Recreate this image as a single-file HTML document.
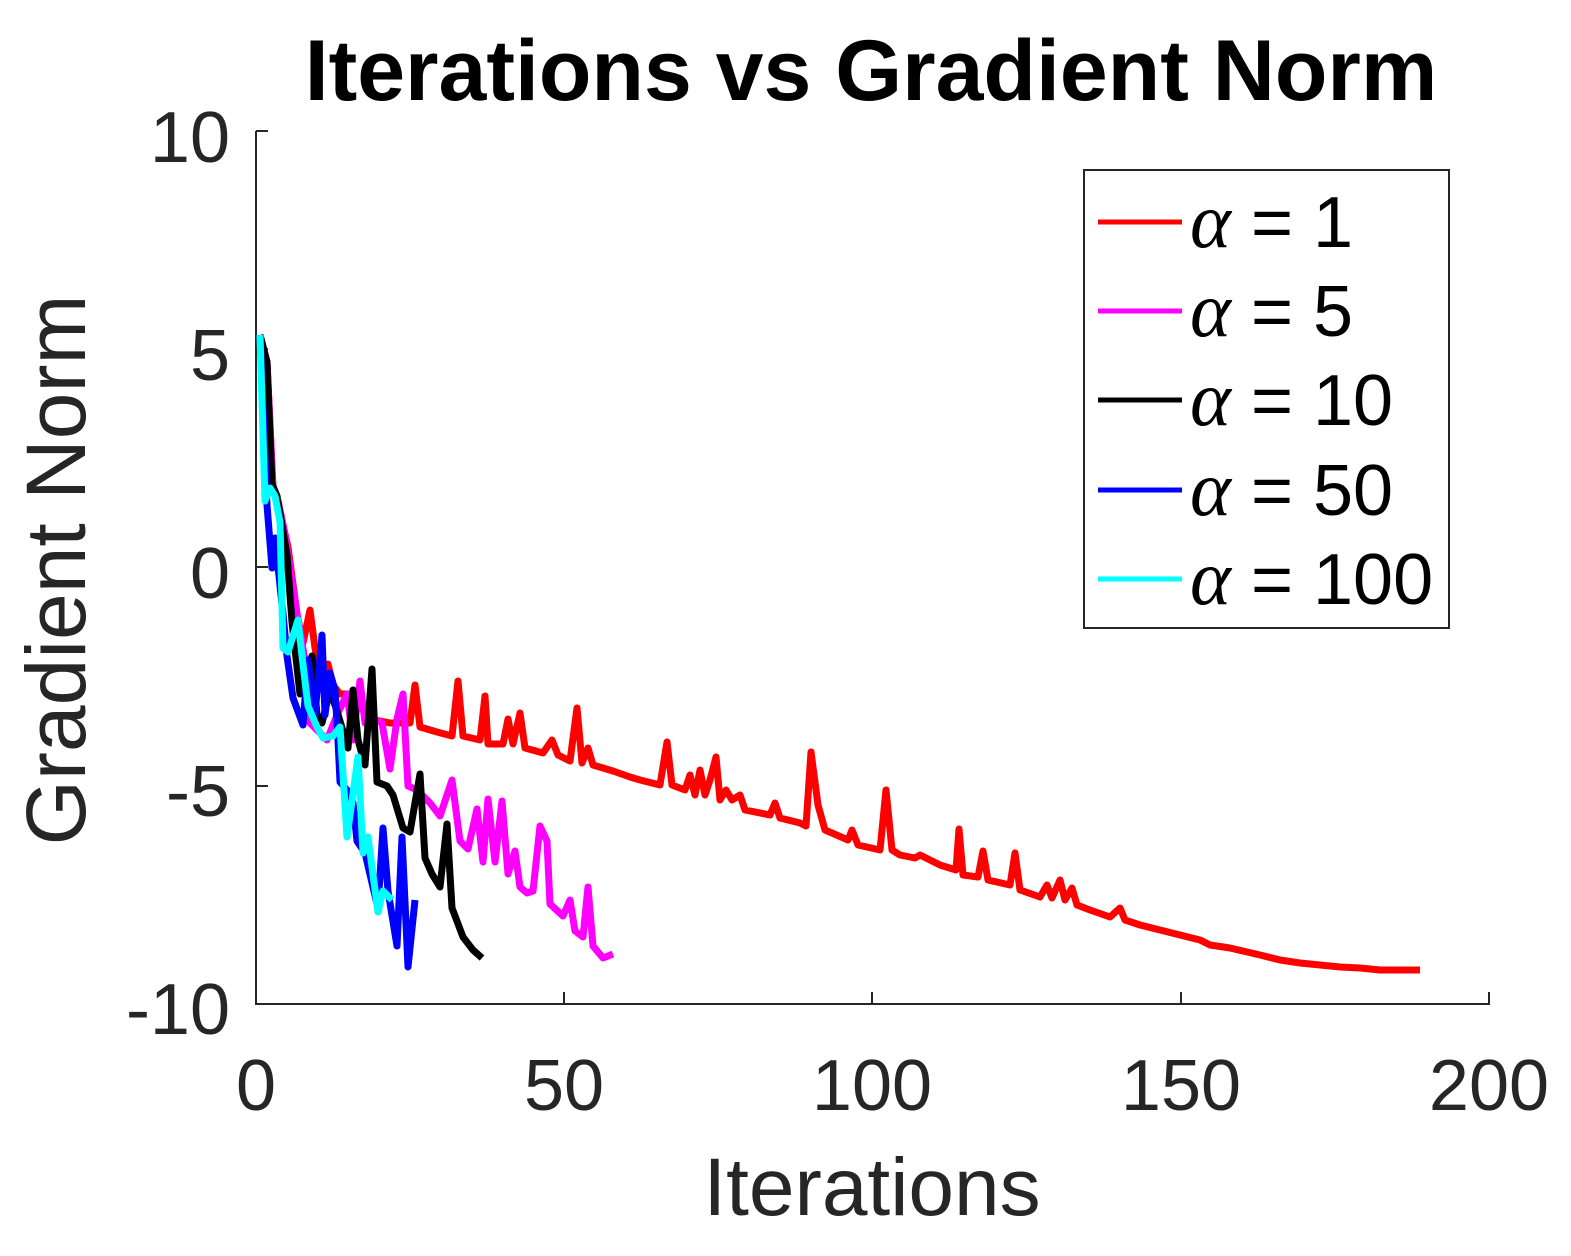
<!DOCTYPE html><html><head><style>body{margin:0;background:#fff}</style></head><body>
<svg width="1571" height="1251" viewBox="0 0 1571 1251" xmlns="http://www.w3.org/2000/svg" font-family="Liberation Sans, sans-serif">
<rect width="1571" height="1251" fill="#fff"/>
<g stroke="#262626" stroke-width="2" fill="none">
<path d="M256 131V1004H1489V992"/>
<path d="M256 131h12M256 349h12M256 567h12M256 786h12M564 1004v-12M872 1004v-12M1181 1004v-12"/>
</g>
<g fill="#262626" font-size="72" text-anchor="end">
<text x="230" y="162">10</text><text x="230" y="380">5</text><text x="230" y="598">0</text><text x="230" y="816">-5</text><text x="230" y="1034">-10</text>
</g>
<g fill="#262626" font-size="72" text-anchor="middle">
<text x="256" y="1110">0</text><text x="564" y="1110">50</text><text x="872" y="1110">100</text><text x="1181" y="1110">150</text><text x="1489" y="1110">200</text>
</g>
<text x="872" y="1215" font-size="82" fill="#262626" text-anchor="middle">Iterations</text>
<text transform="translate(85,570) rotate(-90)" font-size="84" fill="#262626" text-anchor="middle">Gradient Norm</text>
<text x="871" y="100" font-size="86" font-weight="bold" fill="#000" text-anchor="middle">Iterations vs Gradient Norm</text>
<g fill="none" stroke-width="7" stroke-linejoin="round">
<polyline stroke="#f00" points="260,335 267,362 273,488 278,501 285,534 288,547 297,614 303,643 310,610 315,648 320,673 328,664 333,685 340,694 350,694 370,719 390,723 410,723 415,685 420,727 437,732 452,736 458,681 463,736 480,740 485,696 488,744 503,744 508,719 513,744 520,713 525,748 543,753 552,740 558,755 570,761 577,708 582,763 588,748 593,765 613,771 630,777 640,780 660,785 667,742 672,785 685,790 690,775 695,795 700,770 705,795 710,780 716,757 720,800 726,790 732,800 740,795 745,810 770,815 775,803 780,818 800,823 806,826 811,752 818,805 825,830 848,840 852,830 858,845 880,850 886,790 892,850 900,855 915,858 920,855 940,865 956,870 959,829 963,875 978,877 983,851 988,880 1010,885 1015,853 1020,890 1040,897 1047,885 1052,898 1060,880 1065,900 1072,888 1077,905 1090,910 1110,917 1120,908 1125,920 1140,925 1160,930 1180,935 1200,940 1210,945 1230,948 1260,955 1280,960 1300,963 1320,965 1340,967 1360,968 1380,970 1420,970"/>
<polyline stroke="#f0f" points="260,335 267,362 273,488 278,501 285,534 297,614 305,660 310,723 327,740 337,715 347,694 353,740 360,681 365,723 375,719 382,723 390,769 397,719 403,694 408,786 417,790 430,803 440,816 452,780 460,841 468,849 477,809 483,862 488,799 495,862 502,801 508,874 515,851 520,887 527,893 533,891 540,826 547,841 550,904 563,916 570,900 575,931 583,937 588,887 593,946 603,958 613,954"/>
<polyline stroke="#000" points="260,335 267,362 272,484 277,496 287,555 292,622 300,694 312,656 317,715 322,723 330,690 337,711 348,748 353,690 358,740 365,765 372,669 377,782 387,786 393,795 403,828 410,832 420,774 425,858 432,874 440,887 447,824 452,908 463,937 473,950 482,958"/>
<polyline stroke="#00f" points="260,335 267,505 272,568 275,538 283,614 287,656 293,698 303,725 308,660 315,715 322,635 325,715 330,673 335,690 338,740 340,782 347,790 353,803 357,841 365,853 372,883 378,908 383,828 388,891 397,946 402,837 408,967 415,900"/>
<polyline stroke="#0ff" points="260,335 265,501 270,488 275,496 280,522 283,648 288,652 298,620 302,656 308,706 317,727 323,738 333,736 340,727 347,837 358,757 363,853 368,837 378,912 383,891 392,900"/>
</g>
<rect x="1084" y="170" width="365" height="458" fill="#fff" stroke="#262626" stroke-width="2"/>
<g stroke-width="5">
<line x1="1098" y1="222" x2="1182" y2="222" stroke="#f00"/>
<line x1="1098" y1="311" x2="1182" y2="311" stroke="#f0f"/>
<line x1="1098" y1="400" x2="1182" y2="400" stroke="#000"/>
<line x1="1098" y1="490" x2="1182" y2="490" stroke="#00f"/>
<line x1="1098" y1="579" x2="1182" y2="579" stroke="#0ff"/>
</g>
<g font-size="72" fill="#000">
<text x="1190" y="247"><tspan font-family="Liberation Serif, serif" font-style="italic" font-size="78">α</tspan> = 1</text>
<text x="1190" y="336"><tspan font-family="Liberation Serif, serif" font-style="italic" font-size="78">α</tspan> = 5</text>
<text x="1190" y="425"><tspan font-family="Liberation Serif, serif" font-style="italic" font-size="78">α</tspan> = 10</text>
<text x="1190" y="515"><tspan font-family="Liberation Serif, serif" font-style="italic" font-size="78">α</tspan> = 50</text>
<text x="1190" y="604"><tspan font-family="Liberation Serif, serif" font-style="italic" font-size="78">α</tspan> = 100</text>
</g>
</svg>
</body></html>
